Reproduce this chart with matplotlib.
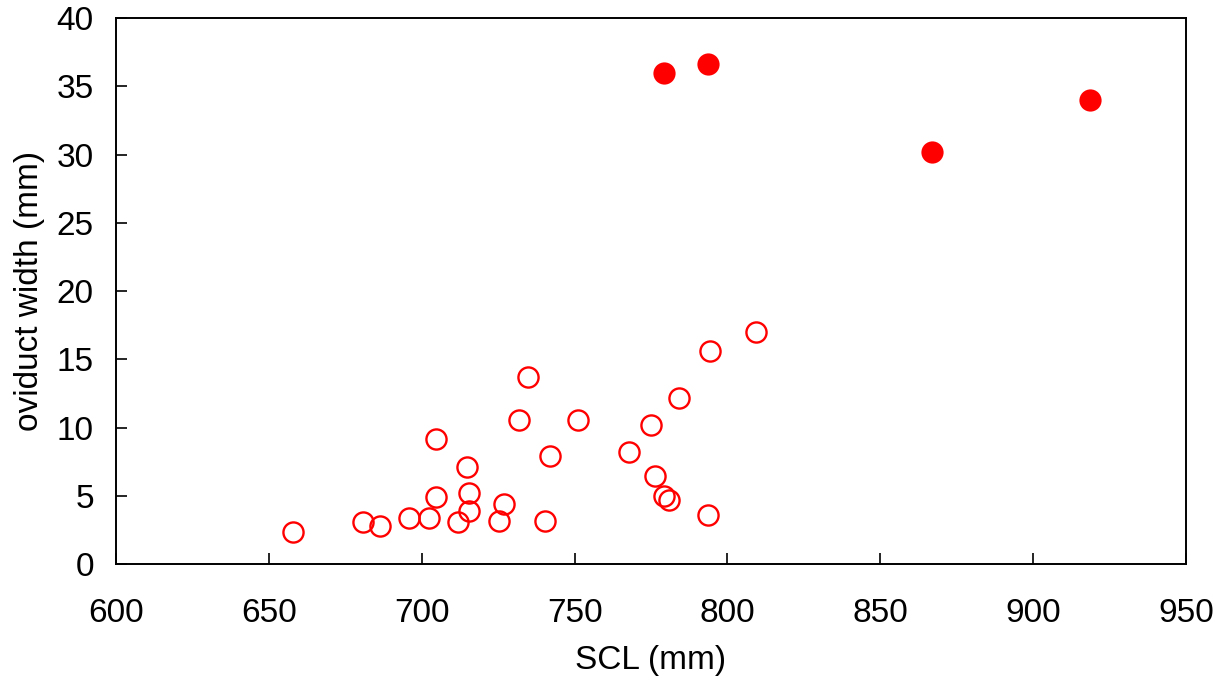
import matplotlib
matplotlib.use("Agg")
import matplotlib.pyplot as plt

# open circles: oviduct width vs SCL
scl_open = [657.8, 680.9, 686.5, 695.9, 702.4, 704.6, 704.6, 711.9, 714.7,
            715.3, 715.5, 725.2, 726.9, 731.8, 734.7, 740.3, 741.9, 751.1,
            767.8, 774.9, 776.4, 779.3, 780.8, 784.3, 793.7, 794.4, 809.5]
width_open = [2.4, 3.1, 2.8, 3.4, 3.4, 4.9, 9.2, 3.1, 7.1,
              5.2, 3.9, 3.2, 4.4, 10.6, 13.7, 3.2, 7.9, 10.6,
              8.2, 10.2, 6.5, 5.0, 4.7, 12.2, 3.6, 15.6, 17.0]

# filled circles
scl_filled = [779.4, 793.8, 867.0, 918.7]
width_filled = [36.0, 36.6, 30.2, 34.0]

x_ticks = [600, 650, 700, 750, 800, 850, 900, 950]
y_ticks = [0, 5, 10, 15, 20, 25, 30, 35, 40]

plt.rcParams["font.family"] = ["Liberation Sans", "DejaVu Sans"]

fig = plt.figure(figsize=(12.28, 6.89), dpi=100)
ax = fig.add_axes([0.0945, 0.181, 0.8713, 0.793])

ax.plot(scl_open, width_open, "o", markersize=14.5, markerfacecolor="none",
        markeredgecolor="#ff0000", markeredgewidth=1.7, linestyle="none")
ax.plot(scl_filled, width_filled, "o", markersize=16, color="#ff0000",
        markeredgewidth=0, linestyle="none")

ax.set_xlim(600, 950)
ax.set_ylim(0, 40)
ax.set_xticks(x_ticks)
ax.set_yticks(y_ticks)
ax.tick_params(direction="in", length=8, width=1.2, labelsize=24,
               colors="black")
ax.tick_params(axis="x", pad=24)
ax.tick_params(axis="y", pad=16)
for s in ax.spines.values():
    s.set_linewidth(1.4)

ax.set_xlabel("SCL (mm)", fontsize=24, labelpad=12)
ax.set_ylabel("oviduct width (mm)", fontsize=24, labelpad=8)

fig.savefig("out.png", dpi=100)
